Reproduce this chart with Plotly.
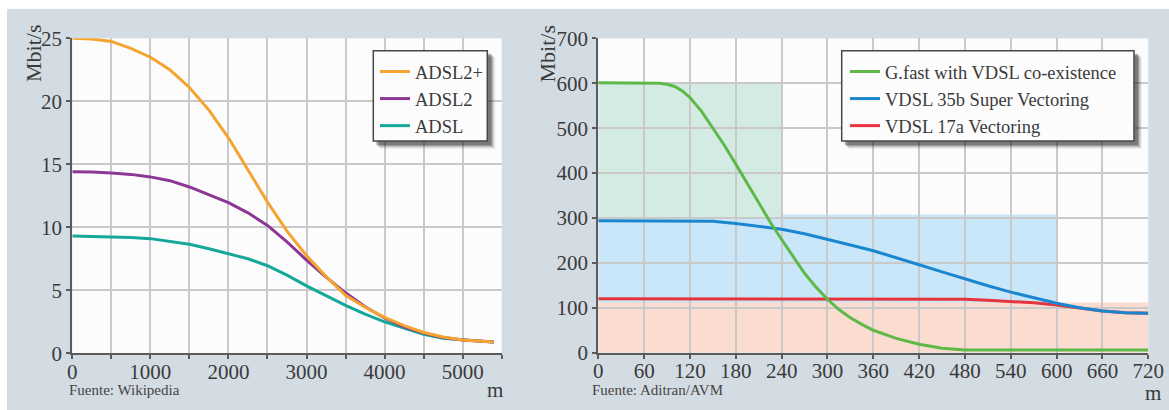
import plotly.graph_objects as go

W, H = 1169, 410

# ---------------- data: left chart (ADSL family) ----------------
adsl_x = [0, 250, 500, 750, 1000, 1250, 1500, 1750, 2000, 2250, 2500, 2750,
          3000, 3250, 3500, 3750, 4000, 4250, 4500, 4750, 5000, 5250, 5400]
adsl2plus = [25.0, 24.95, 24.75, 24.2, 23.5, 22.5, 21.1, 19.3, 17.1, 14.55, 12.0, 9.7,
             7.75, 6.1, 4.6, 3.65, 2.85, 2.2, 1.65, 1.3, 1.05, 0.95, 0.9]
adsl2 = [14.4, 14.38, 14.3, 14.2, 14.0, 13.7, 13.2, 12.6, 11.95, 11.15, 10.15, 8.85,
         7.4, 6.05, 4.8, 3.7, 2.8, 2.1, 1.6, 1.25, 1.05, 0.95, 0.9]
adsl = [9.3, 9.28, 9.25, 9.2, 9.1, 8.9, 8.65, 8.3, 7.9, 7.5, 6.95, 6.2,
        5.35, 4.55, 3.8, 3.1, 2.5, 2.0, 1.5, 1.2, 1.05, 0.95, 0.9]

# ---------------- data: right chart (G.fast / VDSL) ----------------
gfast_x = [0, 30, 60, 80, 90, 100, 110, 120, 135, 150, 165, 180, 195, 210, 225,
           240, 255, 270, 285, 300, 315, 330, 345, 360, 390, 420, 450, 480, 540, 600, 660, 720]
gfast = [601, 601, 601, 600, 598, 593, 583, 568, 538, 501, 462, 420, 377, 333, 291,
         252, 213, 177, 146, 119, 96, 78, 63, 50, 32, 19, 10, 6, 6, 6, 6, 6]
vdsl_x = [0, 30, 60, 90, 120, 150, 180, 210, 240, 270, 300, 330, 360, 390, 420,
          450, 480, 510, 540, 570, 600, 630, 660, 690, 720]
vdsl35b = [294, 294, 294, 294, 294, 293, 288, 282, 275, 265, 253, 240, 227, 212, 196,
           180, 164, 149, 135, 122, 110, 100, 93, 89, 88]
vdsl17a = [120, 120, 120, 120, 120, 120, 120, 120, 120, 120, 120, 120, 120, 120, 120,
           120, 119, 117, 114, 111, 106, 100, 93, 89, 88]

# shaded reach zones: [x_start, x_end, y_low, y_high]
zone_vdsl35b = [0, 600, 0, 308]
zone_gfast = [0, 240, 300, 600]
zone_vdsl17a = [0, 720, 0, 112]

# ticks
left_xticks = list(range(0, 5501, 500))
left_xlabels = [str(v) if (v % 1000 == 0 and v <= 5000) else "" for v in left_xticks]
left_yticks = [0, 5, 10, 15, 20, 25]
right_xticks = list(range(0, 721, 60))
right_yticks = list(range(0, 701, 100))

SERIF = "Liberation Serif, Times New Roman, serif"
TXT = "#3a3a3a"
ORANGE, PURPLE, TEAL = "#f6a430", "#8d3795", "#15a89a"
GREEN, BLUE, RED = "#5fb949", "#1a86d0", "#e6343e"


def px(x):
    return x / W


def py(y):
    return 1 - y / H


fig = go.Figure()

# left traces (drawn so orange ends on top; legend order via legendrank)
for name, ys, col, rank in [("ADSL", adsl, TEAL, 3), ("ADSL2", adsl2, PURPLE, 2),
                            ("ADSL2+", adsl2plus, ORANGE, 1)]:
    fig.add_trace(go.Scatter(x=adsl_x, y=ys, name=name, mode="lines", legendrank=rank,
                             line=dict(color=col, width=3),
                             xaxis="x", yaxis="y", legend="legend"))

# right traces
for name, xs, ys, col, rank in [("VDSL 17a Vectoring", vdsl_x, vdsl17a, RED, 3),
                                ("VDSL 35b Super Vectoring", vdsl_x, vdsl35b, BLUE, 2),
                                ("G.fast with VDSL co-existence", gfast_x, gfast, GREEN, 1)]:
    fig.add_trace(go.Scatter(x=xs, y=ys, name=name, mode="lines", legendrank=rank,
                             line=dict(color=col, width=3),
                             xaxis="x2", yaxis="y2", legend="legend2"))

axis_common = dict(
    showgrid=True, gridcolor="#c9c9c9", gridwidth=1.5,
    showline=True, linecolor="#5b5b5b", linewidth=2,
    ticks="outside", ticklen=4, tickwidth=1.5, tickcolor="#5b5b5b",
    tickfont=dict(family=SERIF, size=21, color=TXT),
    zeroline=False, fixedrange=True, automargin=False,
)

shapes = []
# white frame strips (outside the grey panel)
shapes.append(dict(type="rect", xref="paper", yref="paper", x0=0, x1=1, y0=py(9), y1=1,
                   fillcolor="white", line=dict(width=0), layer="above"))
shapes.append(dict(type="rect", xref="paper", yref="paper", x0=0, x1=px(7), y0=0, y1=1,
                   fillcolor="white", line=dict(width=0), layer="above"))

# reach zones on right chart
for zone, col in [(zone_vdsl35b, "#c9e7f8"), (zone_gfast, "#d4ebe4"), (zone_vdsl17a, "#fbdcd0")]:
    shapes.append(dict(type="rect", xref="x2", yref="y2", x0=zone[0], x1=zone[1],
                       y0=zone[2], y1=zone[3], fillcolor=col, line=dict(width=0), layer="below"))

# legend boxes with drop shadow
for (bx0, by0, bx1, by1) in [(373.3, 50.7, 487.3, 141.0), (841.7, 50.7, 1134.0, 141.0)]:
    for off, alpha in [(8, 0.06), (7, 0.10), (6, 0.16), (5, 0.22), (4, 0.30)]:
        shapes.append(dict(type="rect", xref="paper", yref="paper",
                           x0=px(bx0 + off - 1), x1=px(bx1 + off), y0=py(by1 + off), y1=py(by0 + off - 1),
                           fillcolor=f"rgba(40,40,40,{alpha})", line=dict(width=0), layer="above"))
    shapes.append(dict(type="rect", xref="paper", yref="paper",
                       x0=px(bx0), x1=px(bx1), y0=py(by1), y1=py(by0),
                       fillcolor="#fcfcfc", line=dict(color="#474747", width=1.5), layer="above"))

annotations = []
for x, y in [(33, 54), (546.5, 54)]:
    annotations.append(dict(text="Mbit/s", xref="paper", yref="paper", x=px(x), y=py(y),
                            xanchor="center", yanchor="middle", textangle=-90, showarrow=False,
                            font=dict(family=SERIF, size=22, color=TXT)))
for x, y in [(495, 390), (1153, 393)]:
    annotations.append(dict(text="m", xref="paper", yref="paper", x=px(x), y=py(y),
                            xanchor="center", yanchor="middle", showarrow=False,
                            font=dict(family=SERIF, size=21, color=TXT)))
for x, t in [(67, "Fuente: Wikipedia"), (590, "Fuente: Aditran/AVM")]:
    annotations.append(dict(text=t, xref="paper", yref="paper", x=px(x), y=py(390),
                            xanchor="left", yanchor="middle", showarrow=False,
                            font=dict(family=SERIF, size=15, color="#444444")))

legend_common = dict(xanchor="left", yanchor="top", bgcolor="rgba(0,0,0,0)", borderwidth=0,
                     font=dict(family=SERIF, size=18.5, color=TXT),
                     traceorder="normal", itemwidth=30)

fig.update_layout(
    width=W, height=H,
    margin=dict(l=0, r=0, t=0, b=0, pad=0, autoexpand=False),
    paper_bgcolor="#d4dce3",
    plot_bgcolor="#fcfcfc",
    showlegend=True,
    xaxis=dict(domain=[px(72.3), px(501.7)], range=[0, 5500], tickmode="array",
               tickvals=left_xticks, ticktext=left_xlabels, anchor="y",
               ticklabelstandoff=-6, **axis_common),
    yaxis=dict(domain=[py(353.3), py(38.3)], range=[0, 25], tickmode="array",
               tickvals=left_yticks, anchor="x", **axis_common),
    xaxis2=dict(domain=[px(598.3), px(1148.3)], range=[0, 720], tickmode="array",
                tickvals=right_xticks, anchor="y2", ticklabelstandoff=-6, **axis_common),
    yaxis2=dict(domain=[py(352.7), py(38.4)], range=[0, 700], tickmode="array",
                tickvals=right_yticks, anchor="x2", **axis_common),
    legend=dict(x=px(375), y=py(53), **legend_common),
    legend2=dict(x=px(845), y=py(53), **legend_common),
    shapes=shapes,
    annotations=annotations,
)

fig.write_html(
    "out.html",
    config={"displayModeBar": False},
    post_script="document.body.style.margin='0';document.documentElement.style.overflow='hidden';",
)
